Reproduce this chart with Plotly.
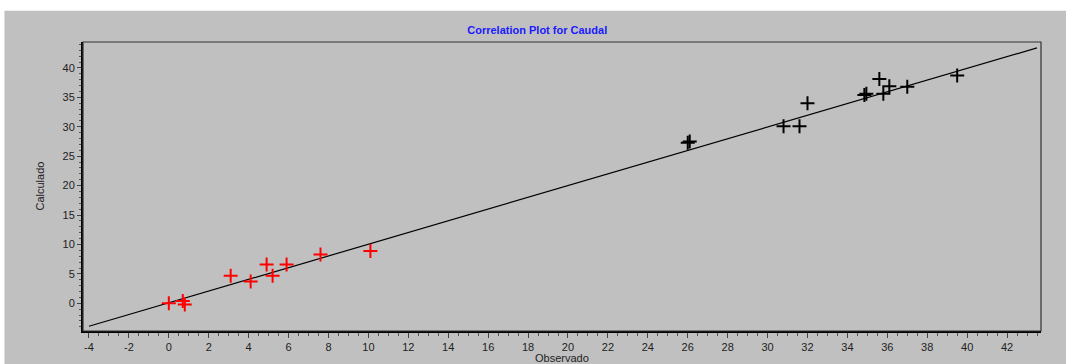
import plotly.graph_objects as go

# Observed vs. calculated discharge (Caudal)
obs_low = [0.0, 0.7, 0.8, 3.1, 4.1, 4.9, 5.2, 5.9, 7.6, 10.1]
calc_low = [0.0, 0.4, -0.2, 4.7, 3.7, 6.6, 4.7, 6.6, 8.3, 8.9]

obs_high = [26.0, 26.1, 30.8, 31.6, 32.0, 34.85, 34.95, 35.6, 35.8, 36.1, 37.0, 39.5]
calc_high = [27.3, 27.5, 30.1, 30.1, 34.0, 35.4, 35.6, 38.1, 35.6, 36.9, 36.8, 38.7]

# Reference correlation line
line_x = [-4.0, 43.5]
line_y = [-3.9, 43.4]

x_ticks = list(range(-4, 43, 2))
y_ticks = list(range(0, 41, 5))

GREY = "#c0c0c0"
FONT = "Liberation Sans, Arial, sans-serif"
TXT = "#222222"

fig = go.Figure()
fig.add_trace(go.Scatter(
    x=line_x, y=line_y, mode="lines",
    line=dict(color="#000000", width=1.2), hoverinfo="skip", showlegend=False))
fig.add_trace(go.Scatter(
    x=obs_low, y=calc_low, mode="markers",
    marker=dict(symbol="cross-thin-open", size=10, color="#ff0000",
                line=dict(color="#ff0000", width=2)),
    showlegend=False))
fig.add_trace(go.Scatter(
    x=obs_high, y=calc_high, mode="markers",
    marker=dict(symbol="cross-thin-open", size=10, color="#000000",
                line=dict(color="#000000", width=2)),
    showlegend=False))

# Grey panel behind the whole chart
fig.add_shape(type="rect", xref="paper", yref="paper",
              x0=-0.082, x1=1.03, y0=-0.12, y1=1.108,
              fillcolor=GREY, line=dict(width=0), layer="below")
# Thin frame around the plotting area
fig.add_shape(type="rect", xref="paper", yref="paper",
              x0=0, x1=1, y0=0, y1=1,
              line=dict(color="#333333", width=1.2), layer="above")

# Axis titles
fig.add_annotation(text="Observado", xref="paper", yref="paper",
                   x=0.5, y=-0.093, xanchor="center", yanchor="middle",
                   showarrow=False, font=dict(family=FONT, size=11, color=TXT))
fig.add_annotation(text="Calculado", xref="paper", yref="paper",
                   x=-0.0459, y=0.5, xanchor="center", yanchor="middle",
                   textangle=-90, showarrow=False,
                   font=dict(family=FONT, size=11, color=TXT))

fig.update_layout(
    width=1066, height=364,
    margin=dict(l=83, r=25, t=42, b=33, autoexpand=False),
    paper_bgcolor="#ffffff",
    plot_bgcolor=GREY,
    font=dict(family=FONT, size=11, color=TXT),
    title=dict(text="<b>Correlation Plot for Caudal</b>",
               font=dict(family=FONT, size=11, color="#1a1aff"),
               x=0.504, xanchor="center", y=0.918, yanchor="middle"),
    xaxis=dict(
        range=[-4.3, 43.7], tickvals=x_ticks, ticktext=[str(v) for v in x_ticks],
        showgrid=False, zeroline=False, automargin=False,
        showline=True, linecolor="#000000", linewidth=2,
        ticks="outside", ticklen=5, tickcolor="#444444", tickwidth=1,
        minor=dict(dtick=0.5, tick0=0, ticks="outside", ticklen=3,
                   tickcolor="#555555", showgrid=False),
        tickfont=dict(family=FONT, size=11, color=TXT),
    ),
    yaxis=dict(
        range=[-4.7, 44.4], tickvals=y_ticks, ticktext=[str(v) for v in y_ticks],
        showgrid=False, zeroline=False, automargin=False,
        showline=True, linecolor="#000000", linewidth=2,
        ticks="outside", ticklen=4, tickcolor="#444444", tickwidth=1,
        minor=dict(dtick=1, tick0=0, ticks="outside", ticklen=2,
                   tickcolor="#555555", showgrid=False),
        tickfont=dict(family=FONT, size=11, color=TXT),
    ),
)

fig.write_html("out.html")
